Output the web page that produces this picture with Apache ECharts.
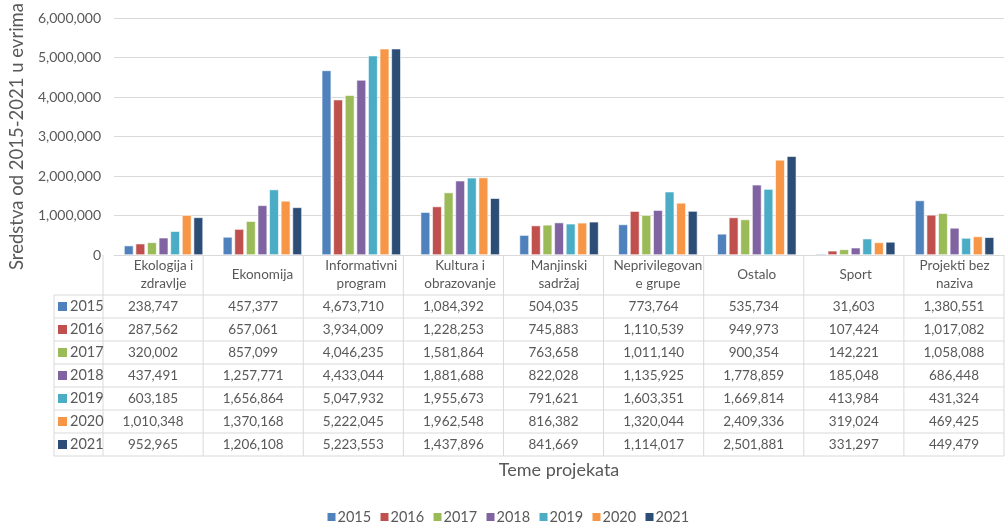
<!DOCTYPE html>
<html>
<head>
<meta charset="utf-8">
<script src="https://cdn.jsdelivr.net/npm/echarts@6/dist/echarts.min.js"></script>
<style>
  html, body { margin: 0; padding: 0; background: #fff; }
  #chart { width: 1005px; height: 525px; }
</style>
</head>
<body>
<div id="chart"></div>
<script>
// Project topics (column headers of the data table)
const categories = [
  'Ekologija i\nzdravlje', 'Ekonomija', 'Informativni\nprogram', 'Kultura i\nobrazovanje',
  'Manjinski\nsadržaj', 'Neprivilegovan\ne grupe', 'Ostalo', 'Sport', 'Projekti bez\nnaziva'
];

// Funding per year, in euros
const years = ['2015', '2016', '2017', '2018', '2019', '2020', '2021'];
const y2015 = [238747, 457377, 4673710, 1084392, 504035, 773764, 535734, 31603, 1380551];
const y2016 = [287562, 657061, 3934009, 1228253, 745883, 1110539, 949973, 107424, 1017082];
const y2017 = [320002, 857099, 4046235, 1581864, 763658, 1011140, 900354, 142221, 1058088];
const y2018 = [437491, 1257771, 4433044, 1881688, 822028, 1135925, 1778859, 185048, 686448];
const y2019 = [603185, 1656864, 5047932, 1955673, 791621, 1603351, 1669814, 413984, 431324];
const y2020 = [1010348, 1370168, 5222045, 1962548, 816382, 1320044, 2409336, 319024, 469425];
const y2021 = [952965, 1206108, 5223553, 1437896, 841669, 1114017, 2501881, 331297, 449479];
const yearValues = [y2015, y2016, y2017, y2018, y2019, y2020, y2021];

const colors = ['#4F81BD', '#C0504D', '#9BBB59', '#8064A2', '#4BACC6', '#F79646', '#2C4D75'];

const FONT = 'Lato, "Noto Sans", sans-serif';
const TEXT = '#595959';
const LINE = '#D9D9D9';

// Layout of the plot, the data table beneath it and the key at the bottom
const W = 1005;
const GRID_LEFT = 103, GRID_RIGHT = 1, GRID_TOP = 15, AXIS_Y = 255;
const HEADER_H = 40, ROW_H = 23;
const KEY_LEFT = 54;
const LEGEND_Y = 517, LEGEND_STEP = 53;

const fmt = v => v.toLocaleString('en-US');

const chart = echarts.init(document.getElementById('chart'), null, { renderer: 'canvas' });

function tableGraphics() {
  const els = [];
  const colW = (W - GRID_LEFT - GRID_RIGHT) / categories.length;
  const right = W - GRID_RIGHT;
  const bodyTop = AXIS_Y + HEADER_H;
  const bottom = bodyTop + ROW_H * years.length;

  // vertical rules between topics
  for (let i = 0; i <= categories.length; i++) {
    const x = GRID_LEFT + i * colW;
    els.push({ type: 'line', silent: true,
      shape: { x1: x, y1: AXIS_Y, x2: x, y2: bottom },
      style: { stroke: LINE, lineWidth: 1 } });
  }
  // left edge of the year key column
  els.push({ type: 'line', silent: true,
    shape: { x1: KEY_LEFT, y1: bodyTop, x2: KEY_LEFT, y2: bottom },
    style: { stroke: LINE, lineWidth: 1 } });
  // horizontal rules
  for (let r = 0; r <= years.length; r++) {
    const y = bodyTop + r * ROW_H;
    els.push({ type: 'line', silent: true,
      shape: { x1: KEY_LEFT, y1: y, x2: right, y2: y },
      style: { stroke: LINE, lineWidth: 1 } });
  }
  // rows: colour key, year and values
  years.forEach((yr, r) => {
    const cy = bodyTop + r * ROW_H + ROW_H / 2;
    els.push({ type: 'rect', silent: true,
      shape: { x: KEY_LEFT + 4, y: cy - 4.5, width: 9, height: 9 },
      style: { fill: colors[r] } });
    els.push({ type: 'text', silent: true,
      style: { x: KEY_LEFT + 16, y: cy, text: yr, fill: TEXT, font: '14.5px ' + FONT,
        textAlign: 'left', textVerticalAlign: 'middle' } });
    yearValues[r].forEach((v, c) => {
      els.push({ type: 'text', silent: true,
        style: { x: GRID_LEFT + (c + 0.5) * colW, y: cy, text: fmt(v), fill: TEXT,
          font: '13.5px ' + FONT, textAlign: 'center', textVerticalAlign: 'middle' } });
    });
  });

  // year key below the chart, centred under the plot
  const legendWidth = LEGEND_STEP * (years.length - 1) + 42;
  const lx0 = (GRID_LEFT + right) / 2 - 46 - legendWidth / 2;
  years.forEach((yr, i) => {
    const x = lx0 + i * LEGEND_STEP;
    els.push({ type: 'rect', silent: true,
      shape: { x: x, y: LEGEND_Y - 4, width: 8, height: 8 },
      style: { fill: colors[i] } });
    els.push({ type: 'text', silent: true,
      style: { x: x + 10, y: LEGEND_Y, text: yr, fill: TEXT, font: '14.5px ' + FONT,
        textAlign: 'left', textVerticalAlign: 'middle' } });
  });
  return els;
}

chart.setOption({
  animation: false,
  color: colors,
  textStyle: { fontFamily: FONT },
  grid: { left: GRID_LEFT, right: GRID_RIGHT, top: GRID_TOP, bottom: 525 - AXIS_Y, containLabel: false },
  xAxis: {
    type: 'category',
    data: categories,
    name: 'Teme projekata',
    nameLocation: 'middle',
    nameGap: 206,
    nameTextStyle: { color: TEXT, fontSize: 18, fontFamily: FONT },
    axisLine: { lineStyle: { color: LINE } },
    axisTick: { show: false },
    axisLabel: {
      interval: 0,
      margin: 20,
      verticalAlign: 'middle',
      color: TEXT,
      fontSize: 13.5,
      lineHeight: 18,
      fontFamily: FONT
    }
  },
  yAxis: {
    type: 'value',
    min: 0,
    max: 6000000,
    interval: 1000000,
    name: 'Sredstva od 2015-2021 u evrima',
    nameLocation: 'middle',
    nameGap: 86,
    nameTextStyle: { color: TEXT, fontSize: 18.5, fontFamily: FONT },
    axisLine: { show: false },
    axisTick: { show: false },
    splitLine: { lineStyle: { color: LINE, width: 1 } },
    axisLabel: {
      color: TEXT,
      fontSize: 14,
      margin: 13,
      fontFamily: FONT,
      formatter: v => fmt(v)
    }
  },
  series: years.map((yr, i) => ({
    name: yr,
    type: 'bar',
    data: yearValues[i],
    barGap: '22%',
    barCategoryGap: '20%',
    itemStyle: { borderColor: '#fff', borderWidth: 0.6 }
  })),
  graphic: tableGraphics()
});
</script>
</body>
</html>
